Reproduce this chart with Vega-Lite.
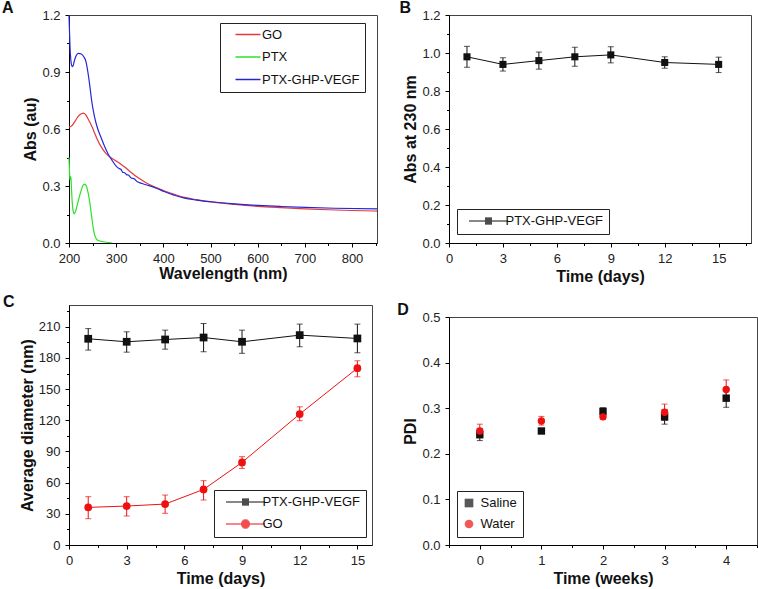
{
  "$schema": "https://vega.github.io/schema/vega-lite/v6.json",
  "background": "white",
  "padding": {"left": 1, "top": -1, "right": 0, "bottom": 0},
  "config": {
    "font": "Liberation Sans",
    "view": {"stroke": "#444", "strokeWidth": 1},
    "axis": {
      "grid": false, "domainColor": "black", "tickColor": "black", "tickSize": 4,
      "labelColor": "#222", "labelFontSize": 13, "labelPadding": 5, "labelFlush": false, "labelOverlap": false,
      "titleFontSize": 16, "titleFontWeight": "bold", "titleColor": "#111", "titlePadding": 3
    },
    "legend": {"labelFontSize": 13, "labelColor": "#111", "strokeColor": "#222", "fillColor": "white", "orient": "none"},
    "title": {"fontSize": 16, "fontWeight": "bold", "anchor": "start", "frame": "group", "baseline": "alphabetic", "color": "#111"}
  },
  "datasets": {
    "spectra": [
      {"s": "GO", "wl": 200, "abs": 0.61}, {"s": "GO", "wl": 205, "abs": 0.615}, {"s": "GO", "wl": 210, "abs": 0.63}, {"s": "GO", "wl": 215, "abs": 0.65}, {"s": "GO", "wl": 220, "abs": 0.668}, {"s": "GO", "wl": 226, "abs": 0.68}, {"s": "GO", "wl": 230, "abs": 0.684}, {"s": "GO", "wl": 235, "abs": 0.677}, {"s": "GO", "wl": 240, "abs": 0.655}, {"s": "GO", "wl": 245, "abs": 0.632}, {"s": "GO", "wl": 250, "abs": 0.605}, {"s": "GO", "wl": 254, "abs": 0.58}, {"s": "GO", "wl": 260, "abs": 0.545}, {"s": "GO", "wl": 268, "abs": 0.507}, {"s": "GO", "wl": 276, "abs": 0.478}, {"s": "GO", "wl": 283, "abs": 0.46}, {"s": "GO", "wl": 290, "abs": 0.447}, {"s": "GO", "wl": 300, "abs": 0.432}, {"s": "GO", "wl": 310, "abs": 0.415}, {"s": "GO", "wl": 318, "abs": 0.4}, {"s": "GO", "wl": 330, "abs": 0.375}, {"s": "GO", "wl": 339, "abs": 0.357}, {"s": "GO", "wl": 350, "abs": 0.338}, {"s": "GO", "wl": 367, "abs": 0.312}, {"s": "GO", "wl": 385, "abs": 0.292}, {"s": "GO", "wl": 403, "abs": 0.274}, {"s": "GO", "wl": 425, "abs": 0.255}, {"s": "GO", "wl": 445, "abs": 0.24}, {"s": "GO", "wl": 470, "abs": 0.228}, {"s": "GO", "wl": 501, "abs": 0.216}, {"s": "GO", "wl": 551, "abs": 0.203}, {"s": "GO", "wl": 600, "abs": 0.193}, {"s": "GO", "wl": 650, "abs": 0.186}, {"s": "GO", "wl": 700, "abs": 0.18}, {"s": "GO", "wl": 750, "abs": 0.175}, {"s": "GO", "wl": 800, "abs": 0.171}, {"s": "GO", "wl": 853, "abs": 0.168},
      {"s": "PTX", "wl": 200, "abs": 0.45}, {"s": "PTX", "wl": 201, "abs": 0.38}, {"s": "PTX", "wl": 202, "abs": 0.33}, {"s": "PTX", "wl": 203, "abs": 0.34}, {"s": "PTX", "wl": 204, "abs": 0.35}, {"s": "PTX", "wl": 205, "abs": 0.3}, {"s": "PTX", "wl": 207, "abs": 0.21}, {"s": "PTX", "wl": 209, "abs": 0.165}, {"s": "PTX", "wl": 211, "abs": 0.153}, {"s": "PTX", "wl": 213, "abs": 0.16}, {"s": "PTX", "wl": 216, "abs": 0.185}, {"s": "PTX", "wl": 220, "abs": 0.225}, {"s": "PTX", "wl": 225, "abs": 0.27}, {"s": "PTX", "wl": 229, "abs": 0.3}, {"s": "PTX", "wl": 233, "abs": 0.31}, {"s": "PTX", "wl": 236, "abs": 0.305}, {"s": "PTX", "wl": 240, "abs": 0.27}, {"s": "PTX", "wl": 244, "abs": 0.215}, {"s": "PTX", "wl": 248, "abs": 0.14}, {"s": "PTX", "wl": 251, "abs": 0.085}, {"s": "PTX", "wl": 254, "abs": 0.045}, {"s": "PTX", "wl": 258, "abs": 0.022}, {"s": "PTX", "wl": 263, "abs": 0.012}, {"s": "PTX", "wl": 270, "abs": 0.008}, {"s": "PTX", "wl": 280, "abs": 0.004}, {"s": "PTX", "wl": 290, "abs": 0.002},
      {"s": "PTX-GHP-VEGF", "wl": 200, "abs": 1.2}, {"s": "PTX-GHP-VEGF", "wl": 201, "abs": 1.12}, {"s": "PTX-GHP-VEGF", "wl": 202, "abs": 1.04}, {"s": "PTX-GHP-VEGF", "wl": 204, "abs": 0.96}, {"s": "PTX-GHP-VEGF", "wl": 206, "abs": 0.932}, {"s": "PTX-GHP-VEGF", "wl": 208, "abs": 0.928}, {"s": "PTX-GHP-VEGF", "wl": 211, "abs": 0.955}, {"s": "PTX-GHP-VEGF", "wl": 215, "abs": 0.985}, {"s": "PTX-GHP-VEGF", "wl": 220, "abs": 0.998}, {"s": "PTX-GHP-VEGF", "wl": 226, "abs": 0.995}, {"s": "PTX-GHP-VEGF", "wl": 232, "abs": 0.978}, {"s": "PTX-GHP-VEGF", "wl": 236, "abs": 0.955}, {"s": "PTX-GHP-VEGF", "wl": 240, "abs": 0.9}, {"s": "PTX-GHP-VEGF", "wl": 244, "abs": 0.83}, {"s": "PTX-GHP-VEGF", "wl": 248, "abs": 0.75}, {"s": "PTX-GHP-VEGF", "wl": 254, "abs": 0.665}, {"s": "PTX-GHP-VEGF", "wl": 261, "abs": 0.6}, {"s": "PTX-GHP-VEGF", "wl": 268, "abs": 0.555}, {"s": "PTX-GHP-VEGF", "wl": 276, "abs": 0.505}, {"s": "PTX-GHP-VEGF", "wl": 283, "abs": 0.468}, {"s": "PTX-GHP-VEGF", "wl": 290, "abs": 0.44}, {"s": "PTX-GHP-VEGF", "wl": 300, "abs": 0.405}, {"s": "PTX-GHP-VEGF", "wl": 306, "abs": 0.392}, {"s": "PTX-GHP-VEGF", "wl": 310, "abs": 0.388}, {"s": "PTX-GHP-VEGF", "wl": 314, "abs": 0.372}, {"s": "PTX-GHP-VEGF", "wl": 318, "abs": 0.37}, {"s": "PTX-GHP-VEGF", "wl": 322, "abs": 0.36}, {"s": "PTX-GHP-VEGF", "wl": 326, "abs": 0.358}, {"s": "PTX-GHP-VEGF", "wl": 332, "abs": 0.342}, {"s": "PTX-GHP-VEGF", "wl": 338, "abs": 0.338}, {"s": "PTX-GHP-VEGF", "wl": 345, "abs": 0.322}, {"s": "PTX-GHP-VEGF", "wl": 353, "abs": 0.315}, {"s": "PTX-GHP-VEGF", "wl": 365, "abs": 0.305}, {"s": "PTX-GHP-VEGF", "wl": 375, "abs": 0.298}, {"s": "PTX-GHP-VEGF", "wl": 390, "abs": 0.283}, {"s": "PTX-GHP-VEGF", "wl": 403, "abs": 0.27}, {"s": "PTX-GHP-VEGF", "wl": 425, "abs": 0.25}, {"s": "PTX-GHP-VEGF", "wl": 445, "abs": 0.236}, {"s": "PTX-GHP-VEGF", "wl": 470, "abs": 0.226}, {"s": "PTX-GHP-VEGF", "wl": 501, "abs": 0.217}, {"s": "PTX-GHP-VEGF", "wl": 551, "abs": 0.206}, {"s": "PTX-GHP-VEGF", "wl": 600, "abs": 0.198}, {"s": "PTX-GHP-VEGF", "wl": 650, "abs": 0.192}, {"s": "PTX-GHP-VEGF", "wl": 700, "abs": 0.187}, {"s": "PTX-GHP-VEGF", "wl": 763, "abs": 0.183}, {"s": "PTX-GHP-VEGF", "wl": 853, "abs": 0.18}
    ],
    "stabB": [
      {"s": "PTX-GHP-VEGF", "d": 1, "v": 0.98, "lo": 0.925, "hi": 1.035},
      {"s": "PTX-GHP-VEGF", "d": 3, "v": 0.94, "lo": 0.905, "hi": 0.975},
      {"s": "PTX-GHP-VEGF", "d": 5, "v": 0.96, "lo": 0.915, "hi": 1.005},
      {"s": "PTX-GHP-VEGF", "d": 7, "v": 0.98, "lo": 0.93, "hi": 1.03},
      {"s": "PTX-GHP-VEGF", "d": 9, "v": 0.99, "lo": 0.948, "hi": 1.033},
      {"s": "PTX-GHP-VEGF", "d": 12, "v": 0.95, "lo": 0.92, "hi": 0.98},
      {"s": "PTX-GHP-VEGF", "d": 15, "v": 0.94, "lo": 0.897, "hi": 0.978}
    ],
    "sizeC": [
      {"s": "PTX-GHP-VEGF", "d": 1, "v": 198.5, "lo": 187.6, "hi": 208.3},
      {"s": "PTX-GHP-VEGF", "d": 3, "v": 195.6, "lo": 185.6, "hi": 205.2},
      {"s": "PTX-GHP-VEGF", "d": 5, "v": 197.8, "lo": 188.5, "hi": 206.8},
      {"s": "PTX-GHP-VEGF", "d": 7, "v": 199.7, "lo": 186, "hi": 213.2},
      {"s": "PTX-GHP-VEGF", "d": 9, "v": 195.6, "lo": 184.5, "hi": 206.8},
      {"s": "PTX-GHP-VEGF", "d": 12, "v": 202, "lo": 190.8, "hi": 212.6},
      {"s": "PTX-GHP-VEGF", "d": 15, "v": 198.8, "lo": 185, "hi": 212.6},
      {"s": "GO", "d": 1, "v": 36.2, "lo": 25.3, "hi": 46.5},
      {"s": "GO", "d": 3, "v": 37.5, "lo": 27.9, "hi": 46.5},
      {"s": "GO", "d": 5, "v": 39.4, "lo": 30.5, "hi": 48.1},
      {"s": "GO", "d": 7, "v": 53.5, "lo": 43.3, "hi": 61.9},
      {"s": "GO", "d": 9, "v": 79.5, "lo": 73.7, "hi": 85},
      {"s": "GO", "d": 12, "v": 126, "lo": 119.6, "hi": 133},
      {"s": "GO", "d": 15, "v": 170.2, "lo": 161.9, "hi": 177.3}
    ],
    "pdiD": [
      {"s": "Saline", "w": 0, "v": 0.242, "lo": 0.229, "hi": 0.255},
      {"s": "Saline", "w": 1, "v": 0.25, "lo": 0.245, "hi": 0.255},
      {"s": "Saline", "w": 2, "v": 0.293, "lo": 0.286, "hi": 0.301},
      {"s": "Saline", "w": 3, "v": 0.281, "lo": 0.265, "hi": 0.297},
      {"s": "Saline", "w": 4, "v": 0.322, "lo": 0.302, "hi": 0.342},
      {"s": "Water", "w": 0, "v": 0.25, "lo": 0.235, "hi": 0.265},
      {"s": "Water", "w": 1, "v": 0.272, "lo": 0.263, "hi": 0.282},
      {"s": "Water", "w": 2, "v": 0.281, "lo": 0.276, "hi": 0.286},
      {"s": "Water", "w": 3, "v": 0.291, "lo": 0.273, "hi": 0.309},
      {"s": "Water", "w": 4, "v": 0.341, "lo": 0.32, "hi": 0.362}
    ]
  },
  "spacing": -1,
  "resolve": {"scale": {"color": "independent", "shape": "independent"}, "legend": {"color": "independent", "shape": "independent"}},
  "hconcat": [
    {
      "spacing": 62,
      "bounds": "flush",
      "resolve": {"scale": {"color": "independent", "shape": "independent"}, "legend": {"color": "independent", "shape": "independent"}},
      "vconcat": [
        {
          "width": 308, "height": 228,
          "title": {"text": "A", "dx": -67, "offset": -6.6},
          "data": {"name": "spectra"},
          "mark": {"type": "line", "strokeWidth": 1.2, "interpolate": "monotone"},
          "encoding": {
            "x": {"field": "wl", "type": "quantitative", "scale": {"domain": [200, 853], "nice": false, "zero": false},
              "axis": {"title": "Wavelength (nm)", "titlePadding": 0, "values": [200, 250, 300, 350, 400, 450, 500, 550, 600, 650, 700, 750, 800, 850],
                "labelExpr": "datum.value % 100 === 0 ? datum.label : ''",
                "tickSize": {"condition": {"test": "datum.value % 100 === 0", "value": 4}, "value": 2.5}}},
            "y": {"field": "abs", "type": "quantitative", "scale": {"domain": [0, 1.2], "nice": false},
              "axis": {"title": "Abs (au)", "format": ".1f", "values": [0, 0.15, 0.3, 0.45, 0.6, 0.75, 0.9, 1.05, 1.2],
                "labelExpr": "round(datum.value * 100) % 30 === 0 ? datum.label : ''",
                "tickSize": {"condition": {"test": "round(datum.value * 100) % 30 === 0", "value": 4}, "value": 2.5}}},
            "color": {"field": "s", "type": "nominal",
              "scale": {"domain": ["GO", "PTX", "PTX-GHP-VEGF"], "range": ["#e23a3a", "#2ee02e", "#2525d8"]},
              "legend": {"title": null, "legendX": 151, "legendY": 8, "padding": 5, "rowPadding": 8.5,
                "symbolType": "M0,0H25", "symbolSize": 4, "symbolStrokeWidth": 1.5, "labelOffset": 20, "symbolOffset": 4}}
          }
        },
        {
          "width": 303, "height": 240,
          "title": {"text": "C", "dx": -66, "offset": -4.6},
          "data": {"name": "sizeC"},
          "resolve": {"scale": {"color": "independent", "shape": "independent"}},
          "encoding": {
            "x": {"field": "d", "type": "quantitative", "scale": {"domain": [0, 15.76], "nice": false},
              "axis": {"title": "Time (days)", "values": [0, 1.5, 3, 4.5, 6, 7.5, 9, 10.5, 12, 13.5, 15],
                "labelExpr": "datum.value % 3 === 0 ? datum.label : ''",
                "tickSize": {"condition": {"test": "datum.value % 3 === 0", "value": 4}, "value": 2.5}}},
            "y": {"field": "v", "type": "quantitative", "scale": {"domain": [0, 231], "nice": false},
              "axis": {"title": "Average diameter (nm)", "values": [0, 15, 30, 45, 60, 75, 90, 105, 120, 135, 150, 165, 180, 195, 210, 225],
                "labelExpr": "datum.value % 30 === 0 ? datum.label : ''",
                "tickSize": {"condition": {"test": "datum.value % 30 === 0", "value": 4}, "value": 2.5}}}
          },
          "layer": [
            {"mark": {"type": "line", "strokeWidth": 1},
              "encoding": {"color": {"field": "s", "type": "nominal", "scale": {"domain": ["PTX-GHP-VEGF", "GO"], "range": ["#111111", "#ee1111"]}, "legend": null}}},
            {"mark": {"type": "rule", "strokeWidth": 1},
              "encoding": {"y": {"field": "lo", "type": "quantitative"}, "y2": {"field": "hi"},
                "color": {"field": "s", "type": "nominal", "scale": {"domain": ["PTX-GHP-VEGF", "GO"], "range": ["#111111", "#ee1111"]}, "legend": null}}},
            {"mark": {"type": "tick", "orient": "horizontal", "size": 6, "thickness": 1},
              "encoding": {"y": {"field": "lo", "type": "quantitative"},
                "color": {"field": "s", "type": "nominal", "scale": {"domain": ["PTX-GHP-VEGF", "GO"], "range": ["#111111", "#ee1111"]}, "legend": null}}},
            {"mark": {"type": "tick", "orient": "horizontal", "size": 6, "thickness": 1},
              "encoding": {"y": {"field": "hi", "type": "quantitative"},
                "color": {"field": "s", "type": "nominal", "scale": {"domain": ["PTX-GHP-VEGF", "GO"], "range": ["#111111", "#ee1111"]}, "legend": null}}},
            {"mark": {"type": "point", "filled": true, "opacity": 1, "size": 60},
              "encoding": {
                "color": {"field": "s", "type": "nominal", "scale": {"domain": ["PTX-GHP-VEGF", "GO"], "range": ["#111111", "#ee1111"]}, "legend": null},
                "shape": {"field": "s", "type": "nominal", "scale": {"domain": ["PTX-GHP-VEGF", "GO"], "range": ["square", "circle"]}, "legend": null}}},
            {"mark": {"type": "point", "filled": false, "opacity": 0, "size": 4, "strokeWidth": 1},
              "encoding": {
                "color": {"field": "s", "type": "nominal", "scale": {"domain": ["PTX-GHP-VEGF", "GO"], "range": ["#111111", "#ee1111"]},
                  "legend": {"title": null, "legendX": 145, "legendY": 185, "padding": 5.5, "rowPadding": 8, "symbolSize": 4, "symbolStrokeWidth": 1, "symbolOpacity": 1, "labelOffset": 30, "symbolOffset": 0}},
                "shape": {"field": "s", "type": "nominal",
                  "scale": {"domain": ["PTX-GHP-VEGF", "GO"], "range": [
                    "M0,0H39M16,-3H23M16,-2H23M16,-1H23M16,1H23M16,2H23M16,3H23",
                    "M0,0H39M17.4,-4H21.6M16.2,-3H22.8M15.5,-2H23.5M15.1,-1H23.9M15.1,1H23.9M15.5,2H23.5M16.2,3H22.8M17.4,4H21.6"]},
                  "legend": {"title": null, "legendX": 145, "legendY": 185, "padding": 5.5, "rowPadding": 8, "symbolSize": 4, "symbolStrokeWidth": 1, "symbolOpacity": 1, "labelOffset": 30, "symbolOffset": 0}}}}
          ]
        }
      ]
    },
    {
      "spacing": 74,
      "bounds": "flush",
      "resolve": {"scale": {"color": "independent", "shape": "independent"}, "legend": {"color": "independent", "shape": "independent"}},
      "vconcat": [
        {
          "width": 302, "height": 228,
          "title": {"text": "B", "dx": -49.5, "offset": -6.6},
          "data": {"name": "stabB"},
          "encoding": {
            "x": {"field": "d", "type": "quantitative", "scale": {"domain": [0, 16.8], "nice": false},
              "axis": {"title": "Time (days)", "values": [0, 1.5, 3, 4.5, 6, 7.5, 9, 10.5, 12, 13.5, 15, 16.5],
                "labelExpr": "datum.value % 3 === 0 ? datum.label : ''",
                "tickSize": {"condition": {"test": "datum.value % 3 === 0", "value": 4}, "value": 2.5}}},
            "y": {"field": "v", "type": "quantitative", "scale": {"domain": [0, 1.2], "nice": false},
              "axis": {"title": "Abs at 230 nm", "format": ".1f", "values": [0, 0.1, 0.2, 0.3, 0.4, 0.5, 0.6, 0.7, 0.8, 0.9, 1.0, 1.1, 1.2],
                "labelExpr": "round(datum.value * 10) % 2 === 0 ? datum.label : ''",
                "tickSize": {"condition": {"test": "round(datum.value * 10) % 2 === 0", "value": 4}, "value": 2.5}}}
          },
          "layer": [
            {"mark": {"type": "line", "strokeWidth": 1},
              "encoding": {"color": {"field": "s", "type": "nominal", "scale": {"domain": ["PTX-GHP-VEGF"], "range": ["#111111"]},
                "legend": {"title": null, "legendX": 8, "legendY": 194, "padding": 5.5,
                  "symbolType": "M0,0H39M16,-3H23M16,-2H23M16,-1H23M16,1H23M16,2H23M16,3H23", "symbolSize": 4, "symbolStrokeWidth": 1, "labelOffset": 30, "symbolOffset": 0}}}},
            {"mark": {"type": "rule", "strokeWidth": 1, "color": "#111"}, "encoding": {"y": {"field": "lo", "type": "quantitative"}, "y2": {"field": "hi"}}},
            {"mark": {"type": "tick", "orient": "horizontal", "size": 6, "thickness": 1, "color": "#111"}, "encoding": {"y": {"field": "lo", "type": "quantitative"}}},
            {"mark": {"type": "tick", "orient": "horizontal", "size": 6, "thickness": 1, "color": "#111"}, "encoding": {"y": {"field": "hi", "type": "quantitative"}}},
            {"mark": {"type": "point", "filled": true, "opacity": 1, "size": 50, "shape": "square", "color": "#111"}}
          ]
        },
        {
          "width": 308, "height": 228,
          "title": {"text": "D", "dx": -51.7, "offset": -7.3},
          "data": {"name": "pdiD"},
          "encoding": {
            "x": {"field": "w", "type": "quantitative", "scale": {"domain": [-0.5, 4.5], "nice": false, "zero": false},
              "axis": {"title": "Time (weeks)", "format": ".0f", "values": [-0.5, 0, 0.5, 1, 1.5, 2, 2.5, 3, 3.5, 4, 4.5],
                "labelExpr": "datum.value % 1 === 0 ? datum.label : ''",
                "tickSize": {"condition": {"test": "datum.value % 1 === 0", "value": 4}, "value": 2.5}}},
            "color": {"field": "s", "type": "nominal", "scale": {"domain": ["Saline", "Water"], "range": ["#111111", "#ee1111"]},
              "legend": {"title": null, "legendX": 8, "legendY": 174, "padding": 5.5, "rowPadding": 7, "symbolSize": 75, "labelOffset": 5, "symbolOffset": 0, "symbolStrokeWidth": 0}}
          },
          "layer": [
            {"mark": {"type": "rule", "strokeWidth": 1},
              "encoding": {"y": {"field": "lo", "type": "quantitative", "scale": {"domain": [0, 0.5], "nice": false},
                "axis": {"title": "PDI", "format": ".1f", "values": [0, 0.05, 0.1, 0.15, 0.2, 0.25, 0.3, 0.35, 0.4, 0.45, 0.5],
                  "labelExpr": "round(datum.value * 100) % 10 === 0 ? datum.label : ''",
                  "tickSize": {"condition": {"test": "round(datum.value * 100) % 10 === 0", "value": 4}, "value": 2.5}}},
                "y2": {"field": "hi"}}},
            {"mark": {"type": "tick", "orient": "horizontal", "size": 6, "thickness": 1}, "encoding": {"y": {"field": "lo", "type": "quantitative"}}},
            {"mark": {"type": "tick", "orient": "horizontal", "size": 6, "thickness": 1}, "encoding": {"y": {"field": "hi", "type": "quantitative"}}},
            {"mark": {"type": "point", "filled": true, "opacity": 1, "size": 55},
              "encoding": {"y": {"field": "v", "type": "quantitative"},
                "shape": {"field": "s", "type": "nominal", "scale": {"domain": ["Saline", "Water"], "range": ["square", "circle"]}}}}
          ]
        }
      ]
    }
  ]
}
